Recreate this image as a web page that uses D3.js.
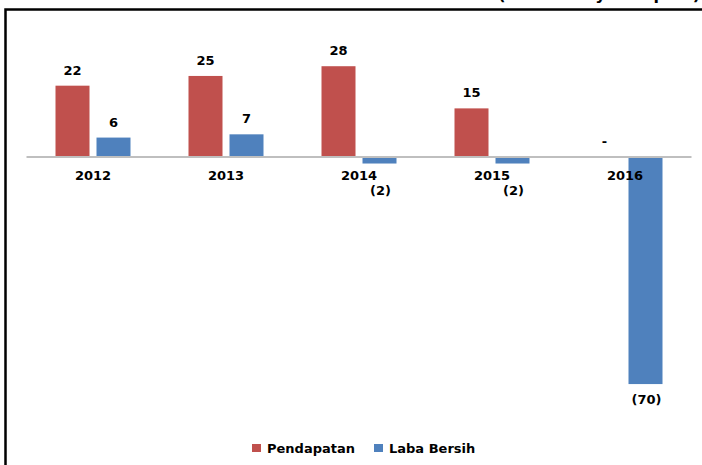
<!DOCTYPE html>
<html><head><meta charset="utf-8">
<script src="https://cdn.jsdelivr.net/npm/d3@7/dist/d3.min.js"></script>
<style>
html,body{margin:0;padding:0;background:#fff;}
svg{display:block;font-family:"DejaVu Sans",Verdana,sans-serif;font-weight:bold;}
</style></head>
<body>
<svg id="chart" width="702" height="465"></svg>
<script>
const years = ["2012","2013","2014","2015","2016"];
const seriesNames = ["Pendapatan","Laba Bersih"];
const pendapatan = [22, 25, 28, 15, 0];
const labaBersih = [6, 7, -2, -2, -70];
const unitTitle = "(Dalam Milyar Rupiah)";
const colors = ["#C0504D", "#4F81BD"];

const svg = d3.select("#chart");
const W = 702, H = 465;
svg.append("rect").attr("width", W).attr("height", H).attr("fill", "#fff");

// frame (top + left)
svg.append("path").attr("d", `M5.5,${H} V9.5 H${W}`).attr("fill","none")
  .attr("stroke","#000").attr("stroke-width",2.5);

// cropped unit title at top
svg.append("text").attr("x", 700).attr("y", -0.5).attr("text-anchor","end")
  .attr("font-size", 16).attr("fill","#000").text(unitTitle);

const x0 = d3.scaleBand().domain(years).range([26.5, 691.5]);
const x1 = d3.scaleBand().domain(seriesNames).range([29, 104]).paddingInner(7/41);
const y = d3.scaleLinear().domain([-80, 40]).range([416.5, 27.3]);

const data = [];
years.forEach((yr, i) => {
  data.push({year: yr, s: seriesNames[0], v: pendapatan[i], c: colors[0]});
  data.push({year: yr, s: seriesNames[1], v: labaBersih[i], c: colors[1]});
});

const g = svg.append("g");
g.selectAll("rect.bar").data(data).join("rect").attr("class","bar")
  .attr("x", d => x0(d.year) + x1(d.s))
  .attr("width", x1.bandwidth())
  .attr("y", d => Math.min(y(d.v), y(0)))
  .attr("height", d => Math.abs(y(d.v) - y(0)))
  .attr("fill", d => d.c);

// zero axis line
svg.append("line").attr("x1", x0.range()[0]).attr("x2", x0.range()[1])
  .attr("y1", y(0)).attr("y2", y(0)).attr("stroke", "#BFBFBF").attr("stroke-width", 2);

// category labels
const xAxis = d3.axisBottom(x0).tickSize(0).tickPadding(0);
const ax = svg.append("g").attr("transform", `translate(0,${y(0)})`).call(xAxis);
ax.select(".domain").remove();
ax.selectAll("text").attr("font-size", 13).attr("font-family","DejaVu Sans, sans-serif")
  .attr("font-weight","bold").attr("fill","#000").attr("dy", null).attr("y", 23);

// value labels
const fmt = v => v > 0 ? String(v) : (v === 0 ? "-" : `(${Math.abs(v)})`);
svg.selectAll("text.val").data(data).join("text").attr("class","val")
  .attr("x", d => x0(d.year) + x1(d.s) + x1.bandwidth()/2 + (d.v < 0 ? 1 : 0))
  .attr("y", d => d.v > 0 ? y(d.v) - 11 : (d.v === 0 ? y(0) - 11 : Math.max(y(d.v) + 20, 195)))
  .attr("text-anchor","middle").attr("font-size", 13).attr("fill","#000")
  .text(d => fmt(d.v));

// legend
const legendX = [252, 374];
const lg = svg.selectAll("g.leg").data(seriesNames).join("g").attr("class","leg")
  .attr("transform", (d,i) => `translate(${legendX[i]},444)`);
lg.append("rect").attr("width", 9).attr("height", 8).attr("fill", (d,i) => colors[i]);
lg.append("text").attr("x", 15).attr("y", 8.5).attr("font-size", 13).attr("fill","#000").text(d => d);
</script>
</body></html>
